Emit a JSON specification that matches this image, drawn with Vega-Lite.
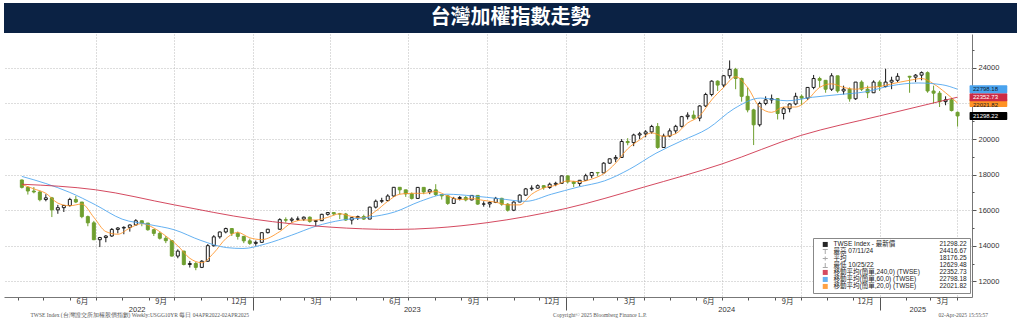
{
  "$schema": "https://vega.github.io/schema/vega-lite/v6.json",
  "background": "white",
  "padding": {"left": 4, "top": 3, "right": 0, "bottom": 0},
  "spacing": 1,
  "config": {"view": {"stroke": null}, "font": "Noto Sans CJK TC"},
  "datasets": {
    "candles": [
      {"d":"2022-04-06","o":17700,"h":17720,"l":17220,"c":17284},
      {"d":"2022-04-13","o":17284,"h":17340,"l":16880,"c":17080},
      {"d":"2022-04-20","o":17080,"h":17300,"l":16950,"c":17025},
      {"d":"2022-04-27","o":17025,"h":17100,"l":16500,"c":16592},
      {"d":"2022-05-04","o":16600,"h":16900,"l":16500,"c":16696},
      {"d":"2022-05-11","o":16696,"h":16750,"l":15616,"c":16020},
      {"d":"2022-05-18","o":16020,"h":16300,"l":15800,"c":16144},
      {"d":"2022-05-25","o":16144,"h":16300,"l":15900,"c":16266},
      {"d":"2022-06-01","o":16266,"h":16700,"l":16200,"c":16606},
      {"d":"2022-06-08","o":16606,"h":16800,"l":16400,"c":16460},
      {"d":"2022-06-15","o":16460,"h":16460,"l":15550,"c":15641},
      {"d":"2022-06-22","o":15641,"h":15700,"l":15100,"c":15291},
      {"d":"2022-06-29","o":15291,"h":15400,"l":14320,"c":14343},
      {"d":"2022-07-06","o":14343,"h":14500,"l":13928,"c":14464},
      {"d":"2022-07-13","o":14464,"h":14600,"l":14200,"c":14551},
      {"d":"2022-07-20","o":14551,"h":15000,"l":14500,"c":14921},
      {"d":"2022-07-27","o":14921,"h":15050,"l":14700,"c":15000},
      {"d":"2022-08-03","o":15000,"h":15100,"l":14650,"c":15036},
      {"d":"2022-08-10","o":15036,"h":15200,"l":14800,"c":15170},
      {"d":"2022-08-17","o":15170,"h":15500,"l":15150,"c":15408},
      {"d":"2022-08-24","o":15408,"h":15420,"l":15100,"c":15278},
      {"d":"2022-08-31","o":15278,"h":15280,"l":14850,"c":14903},
      {"d":"2022-09-07","o":14903,"h":14950,"l":14550,"c":14700},
      {"d":"2022-09-14","o":14700,"h":14800,"l":14350,"c":14425},
      {"d":"2022-09-21","o":14425,"h":14550,"l":14150,"c":14288},
      {"d":"2022-09-28","o":14288,"h":14300,"l":13400,"c":13424},
      {"d":"2022-10-05","o":13424,"h":13800,"l":13300,"c":13702},
      {"d":"2022-10-12","o":13702,"h":13720,"l":12900,"c":12950},
      {"d":"2022-10-19","o":12950,"h":13150,"l":12780,"c":13005},
      {"d":"2022-10-26","o":13005,"h":13100,"l":12629,"c":12788},
      {"d":"2022-11-02","o":12788,"h":13200,"l":12750,"c":13134},
      {"d":"2022-11-09","o":13134,"h":14100,"l":13100,"c":14007},
      {"d":"2022-11-16","o":14007,"h":14600,"l":13950,"c":14505},
      {"d":"2022-11-23","o":14505,"h":14800,"l":14400,"c":14778},
      {"d":"2022-11-30","o":14778,"h":15020,"l":14700,"c":14970},
      {"d":"2022-12-07","o":14970,"h":15000,"l":14550,"c":14705},
      {"d":"2022-12-14","o":14705,"h":14800,"l":14350,"c":14528},
      {"d":"2022-12-21","o":14528,"h":14560,"l":14150,"c":14280},
      {"d":"2022-12-28","o":14280,"h":14400,"l":14050,"c":14138},
      {"d":"2023-01-04","o":14138,"h":14300,"l":14000,"c":14195},
      {"d":"2023-01-11","o":14195,"h":14750,"l":14180,"c":14738},
      {"d":"2023-01-18","o":14738,"h":14950,"l":14700,"c":14932},
      {"d":"2023-02-01","o":14932,"h":15550,"l":14900,"c":15470},
      {"d":"2023-02-08","o":15470,"h":15600,"l":15300,"c":15438},
      {"d":"2023-02-15","o":15438,"h":15600,"l":15300,"c":15500},
      {"d":"2023-02-22","o":15500,"h":15650,"l":15400,"c":15503},
      {"d":"2023-03-01","o":15503,"h":15650,"l":15400,"c":15608},
      {"d":"2023-03-08","o":15608,"h":15650,"l":15300,"c":15373},
      {"d":"2023-03-15","o":15373,"h":15450,"l":15100,"c":15412},
      {"d":"2023-03-22","o":15412,"h":15800,"l":15400,"c":15770},
      {"d":"2023-03-29","o":15770,"h":15900,"l":15700,"c":15868},
      {"d":"2023-04-05","o":15868,"h":15900,"l":15700,"c":15795},
      {"d":"2023-04-12","o":15795,"h":15850,"l":15500,"c":15790},
      {"d":"2023-04-19","o":15790,"h":15850,"l":15400,"c":15449},
      {"d":"2023-04-26","o":15449,"h":15600,"l":15200,"c":15579},
      {"d":"2023-05-03","o":15579,"h":15700,"l":15450,"c":15643},
      {"d":"2023-05-10","o":15643,"h":15750,"l":15450,"c":15502},
      {"d":"2023-05-17","o":15502,"h":16200,"l":15500,"c":16174},
      {"d":"2023-05-24","o":16174,"h":16600,"l":16100,"c":16505},
      {"d":"2023-05-31","o":16505,"h":16700,"l":16400,"c":16540},
      {"d":"2023-06-07","o":16540,"h":16900,"l":16500,"c":16800},
      {"d":"2023-06-14","o":16800,"h":17300,"l":16750,"c":17288},
      {"d":"2023-06-21","o":17288,"h":17300,"l":16900,"c":17145},
      {"d":"2023-06-28","o":17145,"h":17150,"l":16750,"c":16916},
      {"d":"2023-07-05","o":16916,"h":17000,"l":16600,"c":16664},
      {"d":"2023-07-12","o":16664,"h":17300,"l":16650,"c":17283},
      {"d":"2023-07-19","o":17283,"h":17300,"l":16900,"c":17030},
      {"d":"2023-07-26","o":17030,"h":17200,"l":16900,"c":17145},
      {"d":"2023-08-02","o":17145,"h":17463,"l":16800,"c":16880},
      {"d":"2023-08-09","o":16880,"h":16900,"l":16600,"c":16808},
      {"d":"2023-08-16","o":16808,"h":16850,"l":16300,"c":16382},
      {"d":"2023-08-23","o":16382,"h":16750,"l":16350,"c":16656},
      {"d":"2023-08-30","o":16656,"h":16800,"l":16550,"c":16715},
      {"d":"2023-09-06","o":16715,"h":16800,"l":16500,"c":16578},
      {"d":"2023-09-13","o":16578,"h":16850,"l":16550,"c":16832},
      {"d":"2023-09-20","o":16832,"h":16850,"l":16300,"c":16344},
      {"d":"2023-09-27","o":16344,"h":16500,"l":16200,"c":16353},
      {"d":"2023-10-04","o":16353,"h":16500,"l":16150,"c":16437},
      {"d":"2023-10-11","o":16437,"h":16750,"l":16400,"c":16667},
      {"d":"2023-10-18","o":16667,"h":16700,"l":16250,"c":16340},
      {"d":"2023-10-25","o":16340,"h":16400,"l":15925,"c":16001},
      {"d":"2023-11-01","o":16001,"h":16500,"l":15950,"c":16460},
      {"d":"2023-11-08","o":16460,"h":16900,"l":16450,"c":16850},
      {"d":"2023-11-15","o":16850,"h":17250,"l":16800,"c":17199},
      {"d":"2023-11-22","o":17199,"h":17400,"l":17100,"c":17241},
      {"d":"2023-11-29","o":17241,"h":17450,"l":17200,"c":17379},
      {"d":"2023-12-06","o":17379,"h":17400,"l":17150,"c":17278},
      {"d":"2023-12-13","o":17278,"h":17550,"l":17200,"c":17461},
      {"d":"2023-12-20","o":17461,"h":17600,"l":17350,"c":17511},
      {"d":"2023-12-27","o":17511,"h":17950,"l":17500,"c":17930},
      {"d":"2024-01-03","o":17930,"h":17950,"l":17500,"c":17594},
      {"d":"2024-01-10","o":17594,"h":17650,"l":17300,"c":17500},
      {"d":"2024-01-17","o":17500,"h":17700,"l":17350,"c":17682},
      {"d":"2024-01-24","o":17682,"h":18050,"l":17650,"c":17941},
      {"d":"2024-01-31","o":17941,"h":18150,"l":17800,"c":18120},
      {"d":"2024-02-07","o":18120,"h":18150,"l":17900,"c":18096},
      {"d":"2024-02-14","o":18096,"h":18700,"l":18096,"c":18644},
      {"d":"2024-02-21","o":18644,"h":18900,"l":18600,"c":18889},
      {"d":"2024-02-28","o":18889,"h":19100,"l":18700,"c":18966},
      {"d":"2024-03-06","o":18966,"h":20000,"l":18950,"c":19863},
      {"d":"2024-03-13","o":19863,"h":20050,"l":19650,"c":19800},
      {"d":"2024-03-20","o":19800,"h":20300,"l":19600,"c":20227},
      {"d":"2024-03-27","o":20227,"h":20400,"l":20000,"c":20294},
      {"d":"2024-04-03","o":20294,"h":20500,"l":20100,"c":20400},
      {"d":"2024-04-10","o":20400,"h":20800,"l":20300,"c":20706},
      {"d":"2024-04-17","o":20706,"h":20900,"l":19450,"c":19527},
      {"d":"2024-04-24","o":19527,"h":20300,"l":19500,"c":20168},
      {"d":"2024-05-01","o":20168,"h":20600,"l":20100,"c":20458},
      {"d":"2024-05-08","o":20458,"h":20800,"l":20300,"c":20714},
      {"d":"2024-05-15","o":20714,"h":21300,"l":20650,"c":21258},
      {"d":"2024-05-22","o":21258,"h":21500,"l":21100,"c":21342},
      {"d":"2024-05-29","o":21342,"h":21600,"l":21100,"c":21174},
      {"d":"2024-06-05","o":21174,"h":21900,"l":21000,"c":21858},
      {"d":"2024-06-12","o":21858,"h":22600,"l":21800,"c":22504},
      {"d":"2024-06-19","o":22504,"h":23300,"l":22400,"c":23253},
      {"d":"2024-06-26","o":23253,"h":23300,"l":22700,"c":23032},
      {"d":"2024-07-03","o":23032,"h":23600,"l":22900,"c":23556},
      {"d":"2024-07-10","o":23556,"h":24417,"l":23400,"c":23916},
      {"d":"2024-07-17","o":23916,"h":24000,"l":22800,"c":23403},
      {"d":"2024-07-24","o":23403,"h":23450,"l":22100,"c":22400},
      {"d":"2024-07-31","o":22400,"h":22900,"l":21500,"c":21638},
      {"d":"2024-08-07","o":21638,"h":21700,"l":19662,"c":20800},
      {"d":"2024-08-14","o":20800,"h":22100,"l":20700,"c":22000},
      {"d":"2024-08-21","o":22000,"h":22400,"l":21900,"c":22200},
      {"d":"2024-08-28","o":22200,"h":22500,"l":22000,"c":22268},
      {"d":"2024-09-04","o":22268,"h":22300,"l":21100,"c":21434},
      {"d":"2024-09-11","o":21434,"h":21800,"l":21100,"c":21701},
      {"d":"2024-09-18","o":21701,"h":22000,"l":21500,"c":21972},
      {"d":"2024-09-25","o":21972,"h":22600,"l":21900,"c":22400},
      {"d":"2024-10-02","o":22400,"h":22500,"l":21900,"c":22300},
      {"d":"2024-10-09","o":22300,"h":22900,"l":22200,"c":22900},
      {"d":"2024-10-16","o":22900,"h":23600,"l":22800,"c":23400},
      {"d":"2024-10-23","o":23400,"h":23500,"l":22900,"c":23300},
      {"d":"2024-10-30","o":23300,"h":23300,"l":22600,"c":22800},
      {"d":"2024-11-06","o":22800,"h":23700,"l":22700,"c":23553},
      {"d":"2024-11-13","o":23553,"h":23553,"l":22600,"c":22700},
      {"d":"2024-11-20","o":22700,"h":23000,"l":22500,"c":22800},
      {"d":"2024-11-27","o":22800,"h":22900,"l":22100,"c":22262},
      {"d":"2024-12-04","o":22262,"h":23200,"l":22200,"c":23200},
      {"d":"2024-12-11","o":23200,"h":23300,"l":22700,"c":22800},
      {"d":"2024-12-18","o":22800,"h":23000,"l":22300,"c":22600},
      {"d":"2024-12-25","o":22600,"h":23300,"l":22600,"c":23200},
      {"d":"2025-01-01","o":23200,"h":23300,"l":22700,"c":22950},
      {"d":"2025-01-08","o":22950,"h":23950,"l":22900,"c":23200},
      {"d":"2025-01-15","o":23200,"h":23500,"l":22800,"c":23300},
      {"d":"2025-01-22","o":23300,"h":23700,"l":23200,"c":23525},
      {"d":"2025-02-05","o":23525,"h":23550,"l":22600,"c":23478},
      {"d":"2025-02-12","o":23478,"h":23650,"l":23200,"c":23590},
      {"d":"2025-02-19","o":23590,"h":23800,"l":23300,"c":23730},
      {"d":"2025-02-26","o":23730,"h":23800,"l":22600,"c":22700},
      {"d":"2025-03-05","o":22700,"h":23000,"l":22000,"c":22577},
      {"d":"2025-03-12","o":22577,"h":22700,"l":21800,"c":22100},
      {"d":"2025-03-19","o":22100,"h":22400,"l":21900,"c":22200},
      {"d":"2025-03-26","o":22200,"h":22300,"l":21550,"c":21600},
      {"d":"2025-04-02","o":21500,"h":21550,"l":20700,"c":21298.22}
    ],
    "ma": [
      {"d":"2022-04-06","v":17450,"s":"移動平均(簡單,20,0) (TWSE)"},
      {"d":"2022-04-20","v":17200,"s":"移動平均(簡單,20,0) (TWSE)"},
      {"d":"2022-05-04","v":16950,"s":"移動平均(簡單,20,0) (TWSE)"},
      {"d":"2022-05-18","v":16400,"s":"移動平均(簡單,20,0) (TWSE)"},
      {"d":"2022-06-01","v":16250,"s":"移動平均(簡單,20,0) (TWSE)"},
      {"d":"2022-06-15","v":16350,"s":"移動平均(簡單,20,0) (TWSE)"},
      {"d":"2022-06-29","v":15600,"s":"移動平均(簡單,20,0) (TWSE)"},
      {"d":"2022-07-13","v":14800,"s":"移動平均(簡單,20,0) (TWSE)"},
      {"d":"2022-07-27","v":14650,"s":"移動平均(簡單,20,0) (TWSE)"},
      {"d":"2022-08-10","v":15000,"s":"移動平均(簡單,20,0) (TWSE)"},
      {"d":"2022-08-24","v":15250,"s":"移動平均(簡單,20,0) (TWSE)"},
      {"d":"2022-09-07","v":15000,"s":"移動平均(簡單,20,0) (TWSE)"},
      {"d":"2022-09-21","v":14550,"s":"移動平均(簡單,20,0) (TWSE)"},
      {"d":"2022-10-05","v":14000,"s":"移動平均(簡單,20,0) (TWSE)"},
      {"d":"2022-10-19","v":13300,"s":"移動平均(簡單,20,0) (TWSE)"},
      {"d":"2022-11-02","v":13050,"s":"移動平均(簡單,20,0) (TWSE)"},
      {"d":"2022-11-16","v":13600,"s":"移動平均(簡單,20,0) (TWSE)"},
      {"d":"2022-11-30","v":14400,"s":"移動平均(簡單,20,0) (TWSE)"},
      {"d":"2022-12-14","v":14750,"s":"移動平均(簡單,20,0) (TWSE)"},
      {"d":"2022-12-28","v":14450,"s":"移動平均(簡單,20,0) (TWSE)"},
      {"d":"2023-01-11","v":14350,"s":"移動平均(簡單,20,0) (TWSE)"},
      {"d":"2023-02-01","v":14800,"s":"移動平均(簡單,20,0) (TWSE)"},
      {"d":"2023-02-15","v":15300,"s":"移動平均(簡單,20,0) (TWSE)"},
      {"d":"2023-03-01","v":15450,"s":"移動平均(簡單,20,0) (TWSE)"},
      {"d":"2023-03-15","v":15450,"s":"移動平均(簡單,20,0) (TWSE)"},
      {"d":"2023-03-29","v":15600,"s":"移動平均(簡單,20,0) (TWSE)"},
      {"d":"2023-04-12","v":15800,"s":"移動平均(簡單,20,0) (TWSE)"},
      {"d":"2023-04-26","v":15650,"s":"移動平均(簡單,20,0) (TWSE)"},
      {"d":"2023-05-10","v":15580,"s":"移動平均(簡單,20,0) (TWSE)"},
      {"d":"2023-05-24","v":15950,"s":"移動平均(簡單,20,0) (TWSE)"},
      {"d":"2023-06-07","v":16500,"s":"移動平均(簡單,20,0) (TWSE)"},
      {"d":"2023-06-21","v":16900,"s":"移動平均(簡單,20,0) (TWSE)"},
      {"d":"2023-07-05","v":16950,"s":"移動平均(簡單,20,0) (TWSE)"},
      {"d":"2023-07-19","v":16950,"s":"移動平均(簡單,20,0) (TWSE)"},
      {"d":"2023-08-02","v":17050,"s":"移動平均(簡單,20,0) (TWSE)"},
      {"d":"2023-08-16","v":16800,"s":"移動平均(簡單,20,0) (TWSE)"},
      {"d":"2023-08-30","v":16600,"s":"移動平均(簡單,20,0) (TWSE)"},
      {"d":"2023-09-13","v":16650,"s":"移動平均(簡單,20,0) (TWSE)"},
      {"d":"2023-09-27","v":16550,"s":"移動平均(簡單,20,0) (TWSE)"},
      {"d":"2023-10-11","v":16450,"s":"移動平均(簡單,20,0) (TWSE)"},
      {"d":"2023-10-25","v":16300,"s":"移動平均(簡單,20,0) (TWSE)"},
      {"d":"2023-11-08","v":16300,"s":"移動平均(簡單,20,0) (TWSE)"},
      {"d":"2023-11-22","v":16900,"s":"移動平均(簡單,20,0) (TWSE)"},
      {"d":"2023-12-06","v":17250,"s":"移動平均(簡單,20,0) (TWSE)"},
      {"d":"2023-12-20","v":17400,"s":"移動平均(簡單,20,0) (TWSE)"},
      {"d":"2024-01-03","v":17650,"s":"移動平均(簡單,20,0) (TWSE)"},
      {"d":"2024-01-17","v":17600,"s":"移動平均(簡單,20,0) (TWSE)"},
      {"d":"2024-01-31","v":17750,"s":"移動平均(簡單,20,0) (TWSE)"},
      {"d":"2024-02-14","v":18050,"s":"移動平均(簡單,20,0) (TWSE)"},
      {"d":"2024-02-28","v":18650,"s":"移動平均(簡單,20,0) (TWSE)"},
      {"d":"2024-03-13","v":19450,"s":"移動平均(簡單,20,0) (TWSE)"},
      {"d":"2024-03-27","v":19950,"s":"移動平均(簡單,20,0) (TWSE)"},
      {"d":"2024-04-10","v":20350,"s":"移動平均(簡單,20,0) (TWSE)"},
      {"d":"2024-04-24","v":20150,"s":"移動平均(簡單,20,0) (TWSE)"},
      {"d":"2024-05-08","v":20300,"s":"移動平均(簡單,20,0) (TWSE)"},
      {"d":"2024-05-22","v":20900,"s":"移動平均(簡單,20,0) (TWSE)"},
      {"d":"2024-06-05","v":21300,"s":"移動平均(簡單,20,0) (TWSE)"},
      {"d":"2024-06-19","v":22200,"s":"移動平均(簡單,20,0) (TWSE)"},
      {"d":"2024-07-03","v":22900,"s":"移動平均(簡單,20,0) (TWSE)"},
      {"d":"2024-07-17","v":23500,"s":"移動平均(簡單,20,0) (TWSE)"},
      {"d":"2024-07-31","v":22900,"s":"移動平均(簡單,20,0) (TWSE)"},
      {"d":"2024-08-14","v":21800,"s":"移動平均(簡單,20,0) (TWSE)"},
      {"d":"2024-08-28","v":21500,"s":"移動平均(簡單,20,0) (TWSE)"},
      {"d":"2024-09-11","v":21800,"s":"移動平均(簡單,20,0) (TWSE)"},
      {"d":"2024-09-25","v":21800,"s":"移動平均(簡單,20,0) (TWSE)"},
      {"d":"2024-10-09","v":22200,"s":"移動平均(簡單,20,0) (TWSE)"},
      {"d":"2024-10-23","v":22900,"s":"移動平均(簡單,20,0) (TWSE)"},
      {"d":"2024-11-06","v":23100,"s":"移動平均(簡單,20,0) (TWSE)"},
      {"d":"2024-11-20","v":22900,"s":"移動平均(簡單,20,0) (TWSE)"},
      {"d":"2024-12-04","v":22800,"s":"移動平均(簡單,20,0) (TWSE)"},
      {"d":"2024-12-18","v":22900,"s":"移動平均(簡單,20,0) (TWSE)"},
      {"d":"2025-01-01","v":22950,"s":"移動平均(簡單,20,0) (TWSE)"},
      {"d":"2025-01-15","v":23100,"s":"移動平均(簡單,20,0) (TWSE)"},
      {"d":"2025-02-05","v":23300,"s":"移動平均(簡單,20,0) (TWSE)"},
      {"d":"2025-02-19","v":23400,"s":"移動平均(簡單,20,0) (TWSE)"},
      {"d":"2025-03-05","v":23100,"s":"移動平均(簡單,20,0) (TWSE)"},
      {"d":"2025-03-19","v":22600,"s":"移動平均(簡單,20,0) (TWSE)"},
      {"d":"2025-04-02","v":22021.82,"s":"移動平均(簡單,20,0) (TWSE)"},
      {"d":"2022-04-06","v":17900,"s":"移動平均(簡單,60,0) (TWSE)"},
      {"d":"2022-05-04","v":17500,"s":"移動平均(簡單,60,0) (TWSE)"},
      {"d":"2022-06-01","v":17000,"s":"移動平均(簡單,60,0) (TWSE)"},
      {"d":"2022-07-01","v":16300,"s":"移動平均(簡單,60,0) (TWSE)"},
      {"d":"2022-08-01","v":15500,"s":"移動平均(簡單,60,0) (TWSE)"},
      {"d":"2022-09-01","v":15200,"s":"移動平均(簡單,60,0) (TWSE)"},
      {"d":"2022-10-01","v":14900,"s":"移動平均(簡單,60,0) (TWSE)"},
      {"d":"2022-11-01","v":14300,"s":"移動平均(簡單,60,0) (TWSE)"},
      {"d":"2022-12-01","v":13900,"s":"移動平均(簡單,60,0) (TWSE)"},
      {"d":"2022-12-20","v":13850,"s":"移動平均(簡單,60,0) (TWSE)"},
      {"d":"2023-01-15","v":14100,"s":"移動平均(簡單,60,0) (TWSE)"},
      {"d":"2023-02-15","v":14600,"s":"移動平均(簡單,60,0) (TWSE)"},
      {"d":"2023-03-15","v":15100,"s":"移動平均(簡單,60,0) (TWSE)"},
      {"d":"2023-04-15","v":15450,"s":"移動平均(簡單,60,0) (TWSE)"},
      {"d":"2023-05-15","v":15600,"s":"移動平均(簡單,60,0) (TWSE)"},
      {"d":"2023-06-15","v":15900,"s":"移動平均(簡單,60,0) (TWSE)"},
      {"d":"2023-07-15","v":16500,"s":"移動平均(簡單,60,0) (TWSE)"},
      {"d":"2023-08-15","v":16900,"s":"移動平均(簡單,60,0) (TWSE)"},
      {"d":"2023-09-15","v":16800,"s":"移動平均(簡單,60,0) (TWSE)"},
      {"d":"2023-10-15","v":16650,"s":"移動平均(簡單,60,0) (TWSE)"},
      {"d":"2023-11-15","v":16500,"s":"移動平均(簡單,60,0) (TWSE)"},
      {"d":"2023-12-15","v":16900,"s":"移動平均(簡單,60,0) (TWSE)"},
      {"d":"2024-01-15","v":17300,"s":"移動平均(簡單,60,0) (TWSE)"},
      {"d":"2024-02-15","v":17650,"s":"移動平均(簡單,60,0) (TWSE)"},
      {"d":"2024-03-15","v":18300,"s":"移動平均(簡單,60,0) (TWSE)"},
      {"d":"2024-04-15","v":19200,"s":"移動平均(簡單,60,0) (TWSE)"},
      {"d":"2024-05-15","v":19900,"s":"移動平均(簡單,60,0) (TWSE)"},
      {"d":"2024-06-15","v":20600,"s":"移動平均(簡單,60,0) (TWSE)"},
      {"d":"2024-07-15","v":21700,"s":"移動平均(簡單,60,0) (TWSE)"},
      {"d":"2024-08-15","v":22300,"s":"移動平均(簡單,60,0) (TWSE)"},
      {"d":"2024-09-15","v":22150,"s":"移動平均(簡單,60,0) (TWSE)"},
      {"d":"2024-10-15","v":22350,"s":"移動平均(簡單,60,0) (TWSE)"},
      {"d":"2024-11-15","v":22500,"s":"移動平均(簡單,60,0) (TWSE)"},
      {"d":"2024-12-15","v":22650,"s":"移動平均(簡單,60,0) (TWSE)"},
      {"d":"2025-01-15","v":23000,"s":"移動平均(簡單,60,0) (TWSE)"},
      {"d":"2025-02-15","v":23150,"s":"移動平均(簡單,60,0) (TWSE)"},
      {"d":"2025-03-15","v":23050,"s":"移動平均(簡單,60,0) (TWSE)"},
      {"d":"2025-04-02","v":22798.18,"s":"移動平均(簡單,60,0) (TWSE)"},
      {"d":"2022-04-06","v":17460,"s":"移動平均(簡單,240,0) (TWSE)"},
      {"d":"2022-07-01","v":17150,"s":"移動平均(簡單,240,0) (TWSE)"},
      {"d":"2022-10-01","v":16300,"s":"移動平均(簡單,240,0) (TWSE)"},
      {"d":"2023-01-01","v":15500,"s":"移動平均(簡單,240,0) (TWSE)"},
      {"d":"2023-04-01","v":15050,"s":"移動平均(簡單,240,0) (TWSE)"},
      {"d":"2023-06-15","v":14920,"s":"移動平均(簡單,240,0) (TWSE)"},
      {"d":"2023-08-01","v":15000,"s":"移動平均(簡單,240,0) (TWSE)"},
      {"d":"2023-10-01","v":15300,"s":"移動平均(簡單,240,0) (TWSE)"},
      {"d":"2024-01-01","v":16100,"s":"移動平均(簡單,240,0) (TWSE)"},
      {"d":"2024-04-01","v":17300,"s":"移動平均(簡單,240,0) (TWSE)"},
      {"d":"2024-07-01","v":18600,"s":"移動平均(簡單,240,0) (TWSE)"},
      {"d":"2024-10-01","v":20200,"s":"移動平均(簡單,240,0) (TWSE)"},
      {"d":"2025-01-01","v":21300,"s":"移動平均(簡單,240,0) (TWSE)"},
      {"d":"2025-04-02","v":22352.73,"s":"移動平均(簡單,240,0) (TWSE)"}
    ],
    "tags": [
      {"s":"TWSE Index - 最新價","v":21298.22},
      {"s":"移動平均(簡單,20,0) (TWSE)","v":22021.82},
      {"s":"移動平均(簡單,240,0) (TWSE)","v":22352.73},
      {"s":"移動平均(簡單,60,0) (TWSE)","v":22798.18}
    ],
    "leg": [
      {"name":"TWSE Index - 最新價","val":"21298.22"},
      {"name":"最高 07/11/24","val":"24416.67"},
      {"name":"平均","val":"18176.25"},
      {"name":"最低 10/25/22","val":"12629.48"},
      {"name":"移動平均(簡單,240,0) (TWSE)","val":"22352.73"},
      {"name":"移動平均(簡單,60,0) (TWSE)","val":"22798.18"},
      {"name":"移動平均(簡單,20,0) (TWSE)","val":"22021.82"}
    ]
  },
  "vconcat": [
    {
      "width": 1013,
      "height": 30,
      "view": {"fill": "#0b2244", "stroke": null},
      "data": {"values": [{"t": "台灣加權指數走勢"}]},
      "mark": {"type": "text", "color": "white", "fontSize": 20, "fontWeight": "bold", "font": "Noto Sans CJK TC", "align": "center", "baseline": "middle"},
      "encoding": {"text": {"field": "t", "type": "nominal"}}
    },
    {
      "width": 968,
      "height": 263,
      "view": {"stroke": null},
      "resolve": {"axis": {"x": "independent", "y": "independent"}},
      "layer": [
        {
          "data": {"name": "candles"},
          "mark": {"type": "rule", "strokeWidth": 1},
          "encoding": {
            "x": {"field": "d", "type": "temporal",
              "scale": {"type": "utc", "domain": [{"year": 2022, "month": 3, "date": 22, "utc": true}, {"year": 2025, "month": 4, "date": 13, "utc": true}]},
              "axis": {"orient": "bottom", "title": null, "labels": false, "tickCount": {"interval": "month", "step": 1},
                "domain": true, "domainColor": "#777", "domainWidth": 1,
                "ticks": true, "tickColor": "#555", "tickSize": {"condition": {"test": "utcmonth(datum.value) === 0", "value": 13}, "value": 3},
                "grid": true, "gridColor": "#bbb", "gridDash": [1, 2],
                "gridOpacity": {"condition": {"test": "utcmonth(datum.value) % 3 === 0 && datum.value > 1651363200000", "value": 1}, "value": 0}}},
            "y": {"field": "l", "type": "quantitative",
              "scale": {"domain": [11405, 25621], "nice": false, "zero": false},
              "axis": {"orient": "right", "title": null, "values": [12000, 14000, 16000, 18000, 20000, 22000, 24000],
                "labelExpr": "datum.value == 22000 ? '' : format(datum.value, 'd')",
                "labelFont": "Liberation Sans", "labelFontSize": 7.5, "labelColor": "#333", "labelPadding": 2,
                "tickSize": 4, "tickColor": "#555", "domain": true, "domainColor": "#777",
                "grid": true, "gridColor": "#bbb", "gridDash": [1, 2]}},
            "y2": {"field": "h"},
            "color": {"condition": {"test": "datum.c >= datum.o", "value": "#1a1a1a"}, "value": "#6f9f2f"}
          }
        },
        {
          "data": {"name": "candles"},
          "mark": {"type": "bar", "size": 3, "strokeWidth": 1},
          "encoding": {
            "x": {"field": "d", "type": "temporal",
              "axis": {"orient": "bottom", "title": null, "domain": false, "ticks": false, "grid": false,
                "values": [
                  {"year": 2022, "month": 6, "date": 15, "utc": true}, {"year": 2022, "month": 9, "date": 15, "utc": true}, {"year": 2022, "month": 12, "date": 15, "utc": true},
                  {"year": 2023, "month": 3, "date": 15, "utc": true}, {"year": 2023, "month": 6, "date": 15, "utc": true}, {"year": 2023, "month": 9, "date": 15, "utc": true}, {"year": 2023, "month": 12, "date": 15, "utc": true},
                  {"year": 2024, "month": 3, "date": 15, "utc": true}, {"year": 2024, "month": 6, "date": 15, "utc": true}, {"year": 2024, "month": 9, "date": 15, "utc": true}, {"year": 2024, "month": 12, "date": 15, "utc": true},
                  {"year": 2025, "month": 3, "date": 15, "utc": true}],
                "labelExpr": "utcFormat(datum.value, '%-m') + '月'",
                "labelFont": "Noto Sans CJK TC", "labelFontSize": 7.5, "labelColor": "#333", "labelPadding": 0,
                "labelOverlap": false, "labelFlush": false, "labelBound": false}},
            "y": {"field": "o", "type": "quantitative",
              "axis": {"orient": "right", "title": null, "labels": false, "domain": false, "grid": false,
                "values": [13000, 15000, 17000, 19000, 21000, 23000, 25000], "tickSize": 2, "tickColor": "#555"}},
            "y2": {"field": "c"},
            "fill": {"condition": {"test": "datum.c >= datum.o", "value": "#ffffff"}, "value": "#6f9f2f"},
            "stroke": {"condition": {"test": "datum.c >= datum.o", "value": "#1a1a1a"}, "value": "#6f9f2f"}
          }
        },
        {
          "data": {"name": "ma"},
          "mark": {"type": "line", "strokeWidth": 1, "opacity": 0.85, "interpolate": "monotone"},
          "encoding": {
            "x": {"field": "d", "type": "temporal",
              "axis": {"orient": "bottom", "title": null, "domain": false, "ticks": false, "grid": false,
                "values": [{"year": 2022, "month": 8, "date": 18, "utc": true}, {"year": 2023, "month": 7, "date": 5, "utc": true}, {"year": 2024, "month": 7, "date": 6, "utc": true}, {"year": 2025, "month": 2, "date": 14, "utc": true}],
                "labelExpr": "utcFormat(datum.value, '%Y')",
                "labelFont": "Liberation Sans", "labelFontSize": 7.5, "labelColor": "#333", "labelPadding": 8,
                "labelOverlap": false, "labelFlush": false, "labelBound": false}},
            "y": {"field": "v", "type": "quantitative", "axis": null},
            "color": {"field": "s", "type": "nominal",
              "scale": {"domain": ["TWSE Index - 最新價", "最高 07/11/24", "平均", "最低 10/25/22", "移動平均(簡單,240,0) (TWSE)", "移動平均(簡單,60,0) (TWSE)", "移動平均(簡單,20,0) (TWSE)"],
                "range": ["#000000", "#999999", "#999999", "#999999", "#cc2a44", "#4aa3ee", "#ff9224"]}},
            "detail": {"field": "s"}
          }
        },
        {
          "data": {"name": "leg"},
          "mark": {"type": "point", "filled": true, "opacity": 0},
          "encoding": {
            "color": {"field": "name", "type": "nominal",
              "scale": {"domain": ["TWSE Index - 最新價", "最高 07/11/24", "平均", "最低 10/25/22", "移動平均(簡單,240,0) (TWSE)", "移動平均(簡單,60,0) (TWSE)", "移動平均(簡單,20,0) (TWSE)"],
                "range": ["#000000", "#999999", "#999999", "#999999", "#cc2a44", "#4aa3ee", "#ff9224"]},
              "legend": {"orient": "none", "legendX": 818, "legendY": 238.2, "padding": 0, "title": null, "symbolSize": 25, "labelOffset": 5, "symbolOpacity": 1,
                "labelFont": "Liberation Sans, Noto Sans CJK TC", "labelFontSize": 6.5, "labelColor": "#222", "rowPadding": 0, "zindex": 2, "symbolStrokeWidth": 0}},
            "shape": {"field": "name", "type": "nominal",
              "scale": {"domain": ["TWSE Index - 最新價", "最高 07/11/24", "平均", "最低 10/25/22", "移動平均(簡單,240,0) (TWSE)", "移動平均(簡單,60,0) (TWSE)", "移動平均(簡單,20,0) (TWSE)"],
                "range": ["square", "M-1,-1H1V-0.6H0.2V1H-0.2V-0.6H-1Z", "M-1,-0.2H-0.2V-0.8H0.2V-0.2H1V0.2H0.2V0.8H-0.2V0.2H-1Z", "M-0.2,-1H0.2V0.6H1V1H-1V0.6H-0.2Z", "square", "square", "square"]},
              "legend": {"orient": "none", "legendX": 818, "legendY": 238.2, "padding": 0, "title": null, "symbolSize": 25, "labelOffset": 5, "symbolOpacity": 1,
                "labelFont": "Liberation Sans, Noto Sans CJK TC", "labelFontSize": 6.5, "labelColor": "#222", "rowPadding": 0, "zindex": 2, "symbolStrokeWidth": 0}},
            "strokeDash": {"field": "val", "type": "nominal",
              "scale": {"domain": ["21298.22", "24416.67", "18176.25", "12629.48", "22352.73", "22798.18", "22021.82"],
                "range": [[1, 0], [1, 1], [2, 1], [3, 1], [4, 1], [5, 1], [6, 1]]},
              "legend": {"orient": "none", "legendX": 809, "legendY": 235, "padding": 3, "title": null, "symbolSize": 4, "symbolOpacity": 0, "symbolStrokeWidth": 0, "labelOffset": 117,
                "labelFont": "Liberation Sans", "labelFontSize": 6.5, "labelColor": "#222", "rowPadding": 0, "fillColor": "white", "strokeColor": "#888", "zindex": 1}}
          }
        },
        {
          "data": {"name": "tags"},
          "mark": {"type": "bar", "orient": "horizontal", "size": 8, "cornerRadius": 1},
          "encoding": {
            "x": {"datum": {"year": 2025, "month": 4, "date": 16, "utc": true}, "type": "temporal", "axis": null},
            "x2": {"datum": {"year": 2025, "month": 5, "date": 30, "utc": true}},
            "y": {"field": "v", "type": "quantitative", "axis": null},
            "color": {"field": "s", "type": "nominal",
              "scale": {"domain": ["TWSE Index - 最新價", "最高 07/11/24", "平均", "最低 10/25/22", "移動平均(簡單,240,0) (TWSE)", "移動平均(簡單,60,0) (TWSE)", "移動平均(簡單,20,0) (TWSE)"],
                "range": ["#000000", "#999999", "#999999", "#999999", "#cc2a44", "#4aa3ee", "#ff9224"]}}
          }
        },
        {
          "data": {"name": "tags"},
          "transform": [{"filter": "datum.s != '移動平均(簡單,20,0) (TWSE)'"}],
          "mark": {"type": "text", "align": "left", "baseline": "middle", "fontSize": 6, "font": "Liberation Sans", "dy": -0.3},
          "encoding": {
            "x": {"datum": {"year": 2025, "month": 4, "date": 20, "utc": true}, "type": "temporal",
              "axis": {"orient": "bottom", "title": null, "domain": false, "ticks": false, "grid": false,
                "values": [{"year": 2022, "month": 8, "date": 21, "utc": true}, {"year": 2024, "month": 2, "date": 9, "utc": true}, {"year": 2025, "month": 4, "date": 8, "utc": true}],
                "labelExpr": "utcyear(datum.value) == 2022 ? 'TWSE Index (台灣證交所加權股價指數) Weekly:USGG10YR  每日 04APR2022-02APR2025' : (utcyear(datum.value) == 2024 ? 'Copyright© 2025 Bloomberg Finance L.P.' : '02-Apr-2025 15:55:57')",
                "labelFont": "Liberation Serif", "labelFontSize": 5.5, "labelColor": "#555", "labelPadding": 15,
                "labelOverlap": false, "labelFlush": false, "labelBound": false, "labelLimit": 400}},
            "y": {"field": "v", "type": "quantitative", "axis": null},
            "text": {"field": "v", "type": "quantitative", "format": ".2f"},
            "color": {"condition": {"test": "datum.s == '移動平均(簡單,60,0) (TWSE)'", "value": "#10182a"}, "value": "white"}
          }
        },
        {
          "data": {"name": "tags"},
          "transform": [{"filter": "datum.s == '移動平均(簡單,20,0) (TWSE)'"}],
          "mark": {"type": "text", "align": "left", "baseline": "middle", "fontSize": 6, "font": "Liberation Sans", "dy": 1.8, "color": "#10182a"},
          "encoding": {
            "x": {"datum": {"year": 2025, "month": 4, "date": 20, "utc": true}, "type": "temporal", "axis": null},
            "y": {"field": "v", "type": "quantitative", "axis": null},
            "text": {"field": "v", "type": "quantitative", "format": ".2f"}
          }
        }
      ]
    }
  ]
}
